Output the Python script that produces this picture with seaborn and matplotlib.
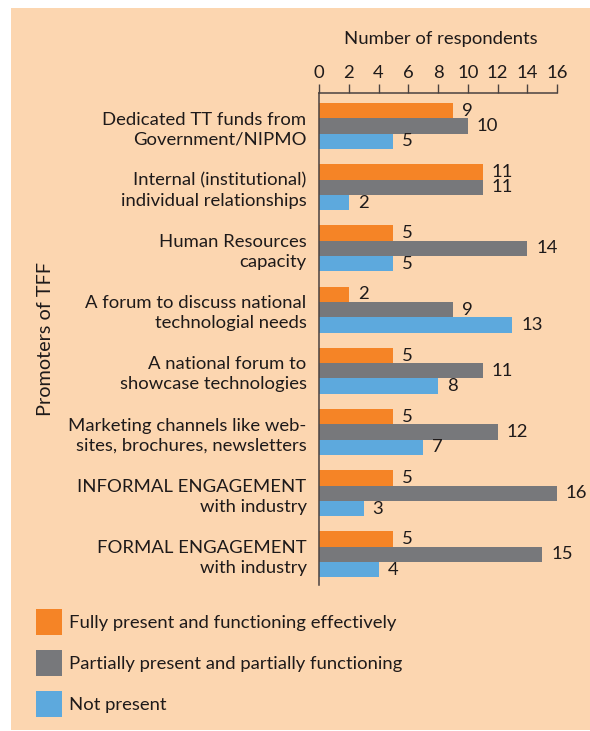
import matplotlib
matplotlib.use("Agg")
import matplotlib.pyplot as plt
import matplotlib.patches as mpatches
import seaborn as sns
import pandas as pd

categories = [
    "Dedicated TT funds from\nGovernment/NIPMO",
    "Internal (institutional)\nindividual relationships",
    "Human Resources\ncapacity",
    "A forum to discuss national\ntechnologial needs",
    "A national forum to\nshowcase technologies",
    "Marketing channels like web-\nsites, brochures, newsletters",
    "INFORMAL ENGAGEMENT\nwith industry",
    "FORMAL ENGAGEMENT\nwith industry",
]
series_names = [
    "Fully present and functioning effectively",
    "Partially present and partially functioning",
    "Not present",
]
fully = [9, 11, 5, 2, 5, 5, 5, 5]
partially = [10, 11, 14, 9, 11, 12, 16, 15]
not_present = [5, 2, 5, 13, 8, 7, 3, 4]
x_ticks = [0, 2, 4, 6, 8, 10, 12, 14, 16]

colors = ["#F58426", "#77787B", "#5DA9DD"]
peach = "#FCD6B0"
txt = "#1E1A1A"

rows = []
for name, vals in zip(series_names, [fully, partially, not_present]):
    for c, v in zip(categories, vals):
        rows.append({"category": c, "series": name, "value": v})
df = pd.DataFrame(rows)

sns.set_theme(style="white")
plt.rcParams["font.family"] = ["Lato", "DejaVu Sans"]

W, H = 590, 731
fig = plt.figure(figsize=(W / 100, H / 100), dpi=100, facecolor="white")
fig.patches.append(mpatches.Rectangle((11 / W, 1 - 730 / H), (W - 11) / W, (730 - 8) / H,
                                      transform=fig.transFigure, facecolor=peach,
                                      edgecolor="none", zorder=-10))
ax = fig.add_axes([319 / W, 1 - 585 / H, (557 - 319) / W, (585 - 93) / H])
ax.set_zorder(5)
ax.set_facecolor("none")

sns.barplot(data=df, y="category", x="value", hue="series", hue_order=series_names,
            order=categories, palette=colors, orient="h", width=0.75,
            saturation=1, ax=ax, legend=False, linewidth=0, edgecolor="none")

fs = 13.3
for cont in ax.containers:
    ax.bar_label(cont, padding=6.5, fontsize=fs, color=txt)

ax.set_xlim(0, 16)
ax.set_ylim(7.5, -0.54)
ax.set_xticks(x_ticks)
ax.xaxis.tick_top()
ax.tick_params(axis="x", top=True, bottom=False, length=6.5, width=1, color="#4a4240",
               pad=2, labelsize=fs, labelcolor=txt, direction="out")
ax.tick_params(axis="y", left=False, length=0, pad=9, labelsize=fs, labelcolor=txt)
for lab in ax.get_yticklabels():
    lab.set_linespacing(1.3)
    lab.set_multialignment("right")

for s in ["right", "bottom"]:
    ax.spines[s].set_visible(False)
for s in ["top", "left"]:
    ax.spines[s].set_color("#4a4240")
    ax.spines[s].set_linewidth(1.1)

ax.xaxis.set_label_position("top")
ax.set_xlabel("Number of respondents", fontsize=fs, color=txt)
ax.xaxis.set_label_coords(0.513, 1.10)
ax.set_ylabel("Promoters of TFF", fontsize=fs + 1, color=txt)
ax.yaxis.set_label_coords(-1.114, 0.5)
ax.grid(False)

handles = [mpatches.Patch(facecolor=c, edgecolor="none") for c in colors]
fig.legend(handles, series_names, loc="upper left", bbox_to_anchor=(36 / W, 1 - 609 / H),
           frameon=False, fontsize=fs, handlelength=1.41, handleheight=1.79,
           handletextpad=0.35, labelspacing=0.81, labelcolor=txt, borderpad=0,
           borderaxespad=0)

fig.savefig("out.png", dpi=100, facecolor="white")
